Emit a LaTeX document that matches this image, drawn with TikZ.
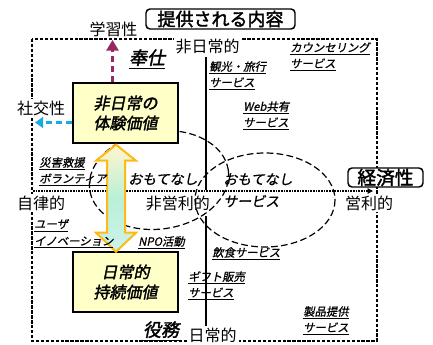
\documentclass[tikz,border=0pt]{standalone}
\usepackage{fontspec}
\setmainfont{Noto Sans CJK JP}
\newfontfamily\jpit[FakeSlant=0.2,FakeBold=0.8]{Noto Sans CJK JP}
\newfontfamily\jpbi[FakeSlant=0.2,FakeBold=2]{Noto Sans CJK JP}
\newfontfamily\jpb[FakeBold=2]{Noto Sans CJK JP}
\usetikzlibrary{arrows.meta,calc}
\definecolor{boxfill}{RGB}{255,255,200}
\definecolor{arrorange}{RGB}{255,185,20}
\definecolor{magarrow}{RGB}{150,40,100}
\definecolor{cyanarrow}{RGB}{25,170,230}
\definecolor{gtop}{RGB}{255,246,205}
\definecolor{gmid}{RGB}{185,240,215}
\definecolor{gbot}{RGB}{205,242,235}
\tikzset{
  lab/.style={font=\jpit\fontsize{8.5}{12}\selectfont, align=left, anchor=north west, inner sep=0pt},
  axl/.style={font=\fontsize{12}{14}\selectfont, inner sep=1.5pt, fill=white},
  heading/.style={font=\jpb\fontsize{13.5}{15}\selectfont, draw, rounded corners=3pt, line width=1.1pt, fill=white, inner sep=0pt},
  valbox/.style={draw, line width=1.1pt, fill=boxfill, minimum width=78.75pt, minimum height=45pt,
     font=\jpbi\fontsize{12}{15}\selectfont, align=center, inner sep=0pt},
  kw/.style={font=\jpbi\fontsize{13.5}{15}\selectfont, inner sep=0pt},
  omo/.style={font=\jpit\fontsize{10.5}{16.5}\selectfont, inner sep=0pt, align=left},
  ell/.style={draw, line width=0.9pt, dash pattern=on 5pt off 2.5pt},
}
\begin{document}
\begin{tikzpicture}[x=0.75pt,y=-0.75pt]
\useasboundingbox (0,0) rectangle (433,345);
% outer dashed frame
\draw[line width=0.9pt, dash pattern=on 2.5pt off 1.2pt] (32,39) rectangle (377,341);
% vertical axis
\coordinate (vtop) at (206,57);
\coordinate (vbot) at (206,327);
\draw[line width=1.9pt] (vtop) -- (vbot);
% labels on axes
\node[axl] (hinichi) at (207.5,46.5) {非日常的};
\node[axl] (nichi) at (212.5,335) {日常的};
\node[axl] (jiritsu) at (41,203) {自律的};
\node[axl] (eiri) at (369,203) {営利的};
\node[axl, inner ysep=4.5pt, inner xsep=0pt] (hieiri) at (178,203) {非営利的};
\node[axl] (shako) at (41,108.5) {社交性};
\node[font=\fontsize{12}{14}\selectfont, inner sep=1pt] (gaku) at (113.5,29.5) {学習性};
% horizontal axis
\coordinate (hl) at (33,191);
\coordinate (hr) at (373,191);
\draw[line width=1.1pt, dash pattern=on 1.2pt off 0.8pt, -{Triangle[width=4pt,length=4pt]}] (hl) -- (hr);
% ellipses
\draw[ell, rotate around={8:(159,180)}] (159,180) ellipse [x radius=70, y radius=49];
\draw[ell] (265,200) ellipse [x radius=70, y radius=47];
% value boxes
\node[valbox] (nd) at (125.5,113) {非日常の\\体験価値};
\node[valbox] (ds) at (125.5,282) {日常的\\持続価値};
% double arrow
\coordinate (at) at ($(nd.south)+(-9.5,1)$);
\draw[line width=1.5pt, arrorange, top color=gtop, bottom color=gbot, middle color=gmid, line join=miter]
  (at) -- ++(20,16) -- ++(-11,0) -- ++(0,72) -- ++(11,0) -- ++(-20,19) -- ++(-20,-19) -- ++(11,0) -- ++(0,-72) -- ++(-11,0) -- cycle;
% dashed arrows
\coordinate (magtip) at (112.5,40);
\draw[magarrow, line width=2.3pt, dash pattern=on 5pt off 2.5pt, -{Triangle[width=9pt,length=8pt]}]
  ($(nd.north)+(-13,0)$) -- (magtip);
\coordinate (cyantip) at (35,122.5);
\draw[cyanarrow, line width=2.2pt, dash pattern=on 5pt off 2.5pt, -{Triangle[width=8pt,length=6pt]}]
  ($(nd.west)+(0,9.5)$) -- (cyantip);
% headings
\node[heading, minimum width=111.75pt, minimum height=15pt] (title) at (220.5,19) {提供される内容};
\node[heading, minimum width=56.25pt, minimum height=14.25pt, font=\jpb\fontsize{14}{15}\selectfont] (keizai) at (385.5,177.5) {経済性};
% keywords
\node[kw] (hoshi) at (147,59) {\underline{奉仕}};
\node[kw] (ekimu) at (161,331) {\underline{役務}};
% omotenashi
\node[omo] (omo1) at (163,179) {おもてなし};
\node[omo, anchor=north west] (omo2) at (223,173) {おもてなし\\サービス};
% service labels
\node[lab] (counsel) at (290,42) {\underline{カウンセリング}\\\underline{サービス}};
\node[lab] (kanko) at (209,61) {\underline{観光・旅行}\\\underline{サービス}};
\node[lab] (web) at (243,101) {\underline{Web共有}\\\underline{サービス}};
\node[lab] (saigai) at (39,157) {\underline{災害救援}\\\underline{ボランティア}};
\node[lab, font=\jpit\fontsize{8.5}{12.75}\selectfont] (user) at (34,219) {\underline{ユーザ}\\\underline{イノベーション}};
\node[lab] (npo) at (138,236) {\underline{NPO活動}};
\node[lab] (inshoku) at (212,247) {\underline{飲食サービス}};
\node[lab] (gift) at (188,271) {\underline{ギフト販売}\\\underline{サービス}};
\node[lab] (seihin) at (303,306) {\underline{製品提供}\\\underline{サービス}};
\end{tikzpicture}
\end{document}
